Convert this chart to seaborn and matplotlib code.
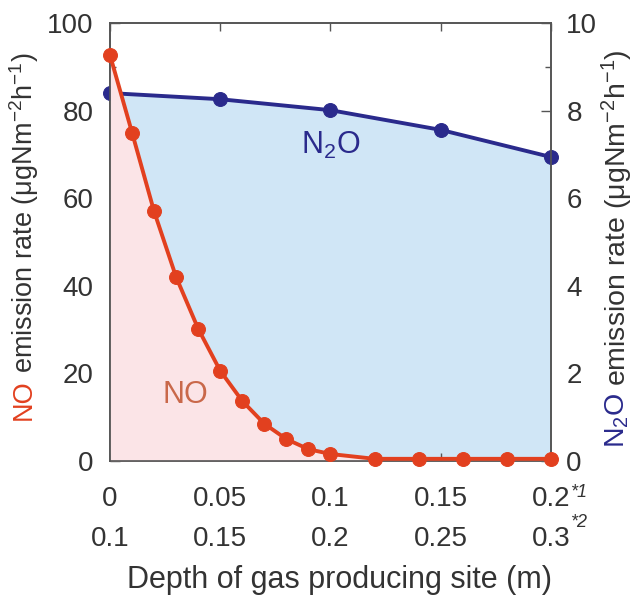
import numpy as np
import pandas as pd
import matplotlib
matplotlib.use("Agg")
import matplotlib.pyplot as plt
import seaborn as sns
from matplotlib.ticker import MultipleLocator

# ---- data ----
depth_no = [0, 0.01, 0.02, 0.03, 0.04, 0.05, 0.06, 0.07, 0.08, 0.09, 0.10,
            0.12, 0.14, 0.16, 0.18, 0.20]
no_rate = [92.7, 75, 57, 42, 30.2, 20.6, 13.7, 8.5, 5.0, 2.7, 1.6,
           0.5, 0.5, 0.5, 0.5, 0.5]
depth_n2o = [0, 0.05, 0.10, 0.15, 0.20]
n2o_rate = [8.40, 8.26, 8.01, 7.56, 6.94]
xtick_pos = [0, 0.05, 0.10, 0.15, 0.20]
xtick_labels = ["0\n0.1", "0.05\n0.15", "0.1\n0.2", "0.15\n0.25", "0.2\n0.3"]
footnote_marks = ["*1", "*2"]

df_no = pd.DataFrame({"depth": depth_no, "rate": no_rate})
df_n2o = pd.DataFrame({"depth": depth_n2o, "rate": n2o_rate})

sns.set_theme(style="ticks")
plt.rcParams["font.family"] = ["Liberation Sans", "DejaVu Sans"]
plt.rcParams["mathtext.fontset"] = "custom"
plt.rcParams["mathtext.rm"] = "Liberation Sans"
plt.rcParams["mathtext.it"] = "Liberation Sans:italic"

RED = "#e2401f"
BLUE = "#2a2a8c"
PINK = "#fbe4e7"
LBLUE = "#d0e6f6"
TXT = "#333333"
SPINE = "#555555"
FS = 20

fig = plt.figure(figsize=(6.39, 6.07), dpi=100)
ax = fig.add_axes([0.1721, 0.2405, 0.8623 - 0.1721, 0.9621 - 0.2405])
ax2 = ax.twinx()
ax.set_zorder(ax2.get_zorder() + 1)
ax.patch.set_visible(False)
ax2.patch.set_facecolor("white")

# N2O: blue area and line on the right axis
ax2.fill_between(depth_n2o, 0, n2o_rate, color=LBLUE, lw=0)
sns.lineplot(data=df_n2o, x="depth", y="rate", ax=ax2, color=BLUE, lw=2.8,
             marker="o", markersize=10, markeredgecolor=BLUE, clip_on=False,
             zorder=5)

# NO: pink area and line on the left axis
ax.fill_between(depth_no, 0, no_rate, color=PINK, lw=0)
sns.lineplot(data=df_no, x="depth", y="rate", ax=ax, color=RED, lw=2.8,
             marker="o", markersize=10, markeredgecolor=RED, clip_on=False,
             zorder=5)

ax.set_xlim(0, 0.2)
ax.set_ylim(0, 100)
ax2.set_ylim(0, 10)
ax.set_xlabel("")
ax.set_ylabel("")
ax2.set_xlabel("")
ax2.set_ylabel("")

ax.set_xticks(xtick_pos)
ax.set_xticklabels(xtick_labels, fontsize=FS, color=TXT, linespacing=1.7)
ax.yaxis.set_major_locator(MultipleLocator(20))
ax.yaxis.set_minor_locator(MultipleLocator(10))
ax2.yaxis.set_major_locator(MultipleLocator(2))
ax2.yaxis.set_minor_locator(MultipleLocator(1))
ax.tick_params(axis="y", labelsize=FS, labelcolor=TXT, direction="in",
               length=7, width=1, color=SPINE, pad=12)
ax.tick_params(axis="y", which="minor", direction="in", length=4, width=1,
               color=SPINE)
ax.tick_params(axis="x", labelsize=FS, labelcolor=TXT, direction="in",
               length=6, width=1, color=SPINE, top=True, pad=18)
ax2.tick_params(axis="y", labelsize=FS, labelcolor=TXT, direction="in",
                length=7, width=1, color=SPINE, pad=11)
ax2.tick_params(axis="y", which="minor", direction="in", length=4, width=1,
                color=SPINE)
for a in (ax, ax2):
    for s in a.spines.values():
        s.set_color(SPINE)
        s.set_linewidth(1.2)
        s.set_visible(True)

# footnote marks on the last tick label
ax.annotate(footnote_marks[0], xy=(xtick_pos[-1], 0), xytext=(14, -23),
            textcoords="offset points", fontsize=13, color=TXT,
            ha="left", va="center", style="italic", annotation_clip=False)
ax.annotate(footnote_marks[1], xy=(xtick_pos[-1], 0), xytext=(14, -44),
            textcoords="offset points", fontsize=13, color=TXT,
            ha="left", va="center", style="italic", annotation_clip=False)

# in-plot annotations
ax.text(0.034, 15, "NO", color="#c9684a", fontsize=22, ha="center",
        va="center")
ax.text(0.1, 72, "N$_2$O", color=BLUE, fontsize=22, ha="center",
        va="center")

fig.text(0.532, 0.045, "Depth of gas producing site (m)", fontsize=22,
         color=TXT, ha="center", va="center")

# two-coloured axis labels
fig.canvas.draw()
r = fig.canvas.get_renderer()
H = fig.bbox.height


def two_part_label(x, ybot, first, first_color, rest, fs):
    t1 = fig.text(x, ybot, first, rotation=90, ha="center", va="bottom",
                  color=first_color, fontsize=fs)
    bb = t1.get_window_extent(renderer=r)
    y2 = (bb.y1 + 6) / H
    fig.text(x, y2, rest, rotation=90, ha="center", va="bottom",
             color=TXT, fontsize=fs)


two_part_label(0.037, (607 - 420) / 607, "NO", RED,
               "emission rate (μgNm$^{-2}$h$^{-1}$)", 19.5)
two_part_label(0.966, (607 - 448) / 607, "N$_2$O", BLUE,
               "emission rate (μgNm$^{-2}$h$^{-1}$)", 20.5)

fig.savefig("out.png", dpi=100)
